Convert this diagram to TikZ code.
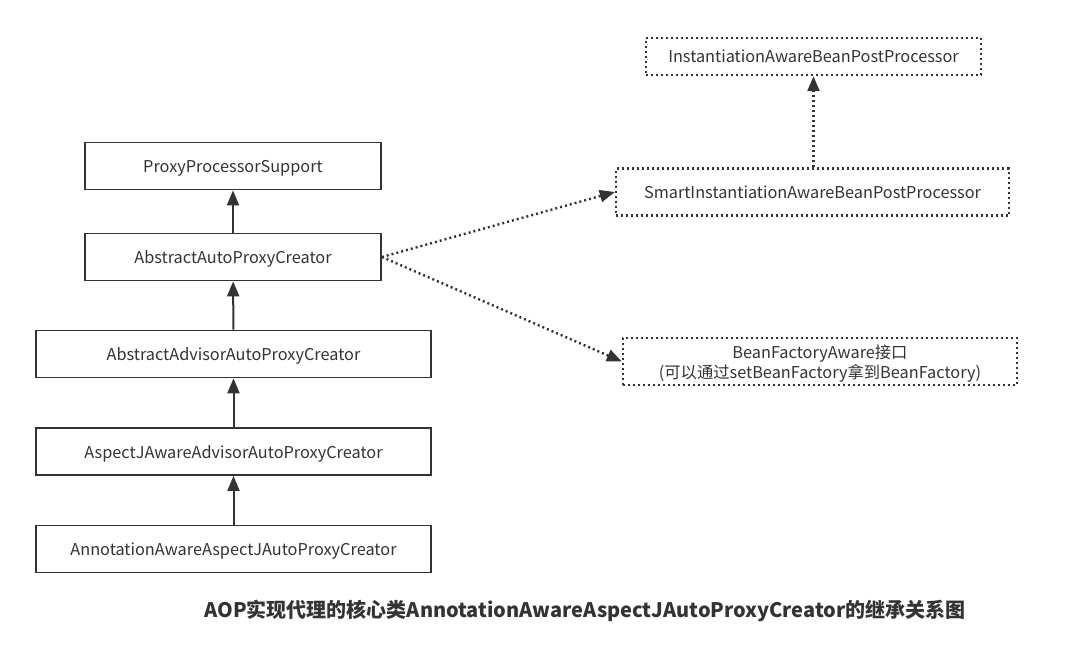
\documentclass[tikz,border=0pt]{standalone}
\usepackage{fontspec}
\setmainfont{Noto Sans CJK SC}
\usetikzlibrary{arrows.meta,positioning}
\definecolor{ln}{HTML}{333333}
\begin{document}
\begin{tikzpicture}[x=1pt,y=-1pt,
  cls/.style={draw=ln,line width=1.8pt,inner sep=0pt,font=\fontsize{16.3}{19}\selectfont,text=ln,text height=14pt,text depth=1pt},
  itf/.style={draw=ln,line width=2.4pt,dash pattern=on 2pt off 3pt,inner sep=0pt,font=\fontsize{16.3}{20}\selectfont,text=ln,align=center,text height=14pt,text depth=1pt},
  inh/.style={draw=ln,line width=2pt,-{Triangle[length=15pt,width=12pt]}},
  impl/.style={draw=ln,line width=2.4pt,dash pattern=on 2pt off 3pt,-{Triangle[length=15pt,width=12pt]}}]
\useasboundingbox (0,0) rectangle (1086,669);
\node[cls,minimum width=296pt,minimum height=47pt] (pps) at (233,166) {ProxyProcessorSupport};
\node[cls,minimum width=296pt,minimum height=47pt] (aapc) at (233,257) {AbstractAutoProxyCreator};
\node[cls,minimum width=395pt,minimum height=47pt] (aadv) at (233.5,354) {AbstractAdvisorAutoProxyCreator};
\node[cls,minimum width=395pt,minimum height=47pt] (ajaa) at (233.5,451.5) {AspectJAwareAdvisorAutoProxyCreator};
\node[cls,minimum width=395pt,minimum height=47pt] (aaaj) at (233.5,549) {AnnotationAwareAspectJAutoProxyCreator};
\node[itf,minimum width=335pt,minimum height=37pt] (iabp) at (813.5,56.5) {InstantiationAwareBeanPostProcessor};
\node[itf,minimum width=393pt,minimum height=47pt] (siab) at (812.5,192) {SmartInstantiationAwareBeanPostProcessor};
\node[itf,minimum width=394pt,minimum height=47pt,text height=35pt,text depth=2pt] (bfa) at (820,361.5) {BeanFactoryAware接口\\(可以通过setBeanFactory拿到BeanFactory)};
\draw[inh] (aapc) -- (pps);
\draw[inh] (aadv) -- (aapc);
\draw[inh] (ajaa) -- (aadv);
\draw[inh] (aaaj) -- (ajaa);
\draw[impl] (siab.north -| iabp.south) -- (iabp.south);
\draw[impl] (aapc.east) -- (siab.west);
\draw[impl] (aapc.east) -- (bfa.west);
\node[font=\fontsize{20}{23}\selectfont\bfseries,text=ln] (title) at (585,611) {AOP实现代理的核心类AnnotationAwareAspectJAutoProxyCreator的继承关系图};
\end{tikzpicture}
\end{document}
